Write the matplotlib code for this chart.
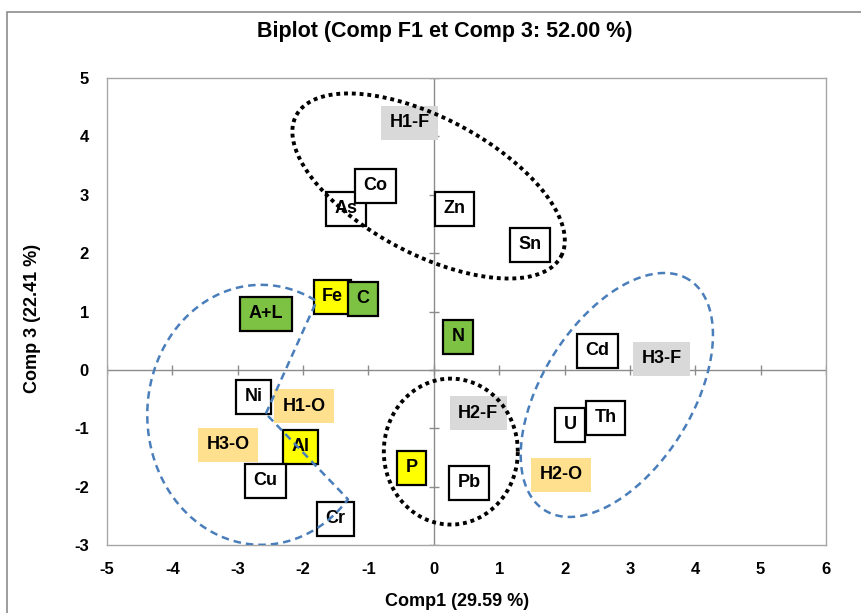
import matplotlib.pyplot as plt
import numpy as np
from matplotlib.patches import Rectangle

plt.rcParams['font.family'] = ['Liberation Sans', 'DejaVu Sans']
plt.rcParams['axes.unicode_minus'] = False

# labels drawn in this order (later ones sit on top)
labels = ['H1-F', 'As', 'Co', 'Zn', 'Sn', 'A+L', 'Fe', 'C', 'N', 'Cd', 'H3-F',
          'Ni', 'H1-O', 'H2-F', 'U', 'Th', 'H3-O', 'Al', 'P', 'H2-O', 'Cu', 'Pb', 'Cr']
comp1 = [-0.37, -1.34, -0.89, 0.32, 1.47, -2.57, -1.55, -1.09, 0.37, 2.50, 3.49,
         -2.76, -1.98, 0.68, 2.09, 2.63, -3.15, -2.04, -0.34, 1.95, -2.58, 0.54, -1.51]
comp3 = [4.23, 2.76, 3.15, 2.76, 2.14, 0.96, 1.25, 1.22, 0.57, 0.33, 0.19,
         -0.46, -0.62, -0.74, -0.94, -0.82, -1.28, -1.32, -1.68, -1.80, -1.90, -1.93, -2.55]
kinds = ['grey', 'var', 'var', 'var', 'var', 'green', 'yellow', 'green', 'green', 'var', 'grey',
         'var', 'orange', 'grey', 'var', 'var', 'orange', 'yellow', 'yellow', 'orange', 'var', 'var', 'var']

styles = {
    'var': dict(fc='white', ec='black'),
    'green': dict(fc='#7DC242', ec='black'),
    'yellow': dict(fc='#FFFF00', ec='black'),
    'grey': dict(fc='#D9D9D9', ec='none'),
    'orange': dict(fc='#FFE08F', ec='none'),
}

x_ticks = np.arange(-5, 7)
y_ticks = np.arange(-3, 6)

# group outlines: centre (data), semi-axes (px), angle (deg)
dotted_groups = [((-0.08, 3.15), 150, 68, -28), ((0.26, -1.40), 67, 73, 0)]
dashed_groups = [((2.80, -0.43), 136, 75, 58)]
# left crescent: ellipse arc plus two straight legs to an inner vertex
crescent_centre = (-2.64, -0.77)
crescent_axes = (114, 130)
crescent_span = (61, 319.5)
crescent_vertex = (-2.57, -0.75)

fig = plt.figure(figsize=(8.62, 6.13), dpi=100)
ax = fig.add_axes([107 / 862, 1 - 545 / 613, 719 / 862, 467 / 613])
ax.set_xlim(-5, 6)
ax.set_ylim(-3, 5)

for s in ax.spines.values():
    s.set_color('#A6A6A6')
    s.set_linewidth(1)

ax.set_xticks(x_ticks)
ax.set_yticks(y_ticks)
ax.tick_params(length=0, labelsize=12)
ax.tick_params(axis='x', pad=12)
ax.tick_params(axis='y', pad=13)
for t in ax.get_xticklabels() + ax.get_yticklabels():
    t.set_fontweight('bold')

# axes through the origin with crossing tick marks
ax.axhline(0, color='#8C8C8C', lw=1, zorder=1)
ax.axvline(0, color='#8C8C8C', lw=1, zorder=1)
ax.plot(x_ticks, np.zeros_like(x_ticks), ls='none', marker='|', ms=7, mew=1, color='#8C8C8C', zorder=1)
ax.plot(np.zeros_like(y_ticks), y_ticks, ls='none', marker='_', ms=7, mew=1, color='#8C8C8C', zorder=1)

for i, (lab, x, y, k) in enumerate(zip(labels, comp1, comp3, kinds)):
    st = styles[k]
    ax.text(x, y, lab, ha='center', va='center', fontsize=13, fontweight='bold', zorder=3 + i * 0.01,
            bbox=dict(boxstyle='square,pad=0.47', fc=st['fc'], ec=st['ec'], lw=1.6))

# pixel scale of the data axes
p0 = ax.transData.transform((0, 0))
sx = ax.transData.transform((1, 0))[0] - p0[0]
sy = ax.transData.transform((0, 1))[1] - p0[1]


def ellipse_pts(centre, a, b, ang, t0=0, t1=360):
    t = np.radians(np.linspace(t0, t1, 300))
    th = np.radians(ang)
    dx = a * np.cos(t) * np.cos(th) - b * np.sin(t) * np.sin(th)
    dy = a * np.cos(t) * np.sin(th) + b * np.sin(t) * np.cos(th)
    return centre[0] + dx / sx, centre[1] + dy / sy


for c, a, b, ang in dotted_groups:
    ex, ey = ellipse_pts(c, a, b, ang)
    ax.plot(ex, ey, color='black', lw=2.8, ls=(0, (1, 1.0)), zorder=5)

for c, a, b, ang in dashed_groups:
    ex, ey = ellipse_pts(c, a, b, ang)
    ax.plot(ex, ey, color='#4A7EBB', lw=1.8, ls=(0, (3, 2)), zorder=5)

ex, ey = ellipse_pts(crescent_centre, crescent_axes[0], crescent_axes[1], 0, *crescent_span)
ex = np.concatenate([[crescent_vertex[0]], ex, [crescent_vertex[0]]])
ey = np.concatenate([[crescent_vertex[1]], ey, [crescent_vertex[1]]])
ax.plot(ex, ey, color='#4A7EBB', lw=1.8, ls=(0, (3, 2)), zorder=5)

fig.text(0.516, 1 - 32 / 613, 'Biplot (Comp F1 et Comp 3: 52.00 %)', ha='center', va='center',
         fontsize=15.5, fontweight='bold')
fig.text(457 / 862, 1 - 601 / 613, 'Comp1 (29.59 %)', ha='center', va='center',
         fontsize=13, fontweight='bold')
fig.text(33 / 862, 1 - 318 / 613, 'Comp 3 (22.41 %)', ha='center', va='center', rotation=90,
         fontsize=13, fontweight='bold')

# outer chart border
fig.patches.append(Rectangle((7 / 862, -0.05), 1.1, 1 - 12 / 613 + 0.05, transform=fig.transFigure,
                             fill=False, ec='#8C8C8C', lw=1.2))

fig.savefig('out.png', dpi=100)
